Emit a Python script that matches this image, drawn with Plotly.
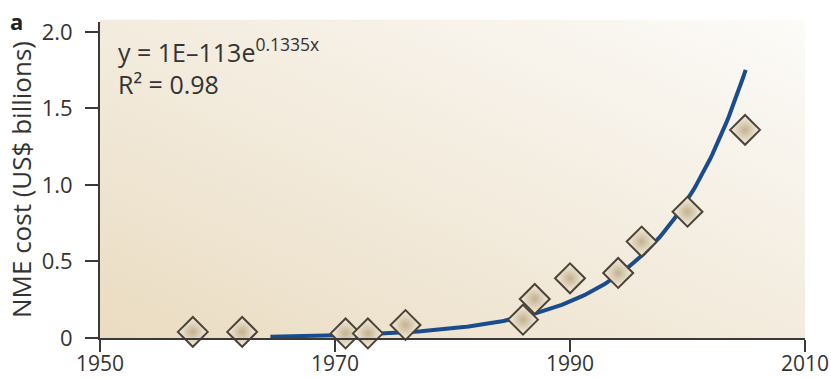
import base64
import numpy as np
import plotly.graph_objects as go

# NME cost by year of approval (US$ billions)
years = [1957.9, 1962.1, 1970.9, 1972.8, 1976.0, 1986.0, 1987.0, 1990.0, 1994.1, 1996.1, 2000.0, 2004.9]
cost = [0.04, 0.04, 0.03, 0.03, 0.085, 0.12, 0.255, 0.39, 0.425, 0.63, 0.825, 1.36]

# Exponential trend y = 1E-113 * e^(0.1335x), in US$ millions
fit_a = 1e-113
fit_b = 0.1335
fit_start, fit_end = 1964.5, 2004.95

x_ticks = [1950, 1970, 1990, 2010]
y_ticks = [0, 0.5, 1.0, 1.5, 2.0]
y_tick_text = ["0", "0.5", "1.0", "1.5", "2.0"]
y_top = 2.065

fit_x = np.linspace(fit_start, fit_end, 200)
fit_y = fit_a * np.exp(fit_b * fit_x) / 1000.0

FONT = "Open Sans"
INK = "#333333"

L, R, T, B = 100, 26, 22, 40
W, H = 831, 378
PW, PH = W - L - R, H - T - B


def px_x(px):
    return (px - L) / PW


def px_y(py):
    return (H - B - py) / PH


# Soft beige wash behind the plot, darker toward lower left
svg = (
    '<svg xmlns="http://www.w3.org/2000/svg" width="700" height="320" preserveAspectRatio="none">'
    '<defs><linearGradient id="g" x1="0" y1="1" x2="1" y2="0">'
    '<stop offset="0" stop-color="#eadcc1"/>'
    '<stop offset="0.45" stop-color="#f2eadb"/>'
    '<stop offset="1" stop-color="#fcfbf8"/>'
    '</linearGradient></defs>'
    '<rect width="700" height="320" fill="url(#g)"/></svg>'
)
bg_src = "data:image/svg+xml;base64," + base64.b64encode(svg.encode()).decode()

fig = go.Figure()

fig.add_trace(go.Scatter(
    x=fit_x, y=fit_y, mode="lines",
    line=dict(color="#1b4b8f", width=4),
    hoverinfo="skip", cliponaxis=False,
))

fig.add_trace(go.Scatter(
    x=years, y=cost, mode="markers",
    marker=dict(
        symbol="diamond", size=23,
        color="#f7f1e3",
        gradient=dict(type="radial", color="#c4b290"),
        line=dict(color="#4b4338", width=2),
    ),
    cliponaxis=False,
))

fig.update_layout(
    width=W, height=H,
    margin=dict(l=L, r=R, t=T, b=B, autoexpand=False),
    paper_bgcolor="white",
    plot_bgcolor="rgba(0,0,0,0)",
    showlegend=False,
    font=dict(family=FONT, size=22, color=INK),
    images=[dict(
        source=bg_src, xref="paper", yref="paper",
        x=0, y=1.008, sizex=1, sizey=1.008,
        sizing="stretch", layer="below", xanchor="left", yanchor="top",
    )],
    xaxis=dict(
        range=[1950, 2010], tickvals=x_ticks,
        showgrid=False, zeroline=False, automargin=False,
        showline=True, linecolor="#3a3a3a", linewidth=2,
        ticks="outside", ticklen=12, tickwidth=2, tickcolor="#3a3a3a",
        ticklabelstandoff=-6,
        tickfont=dict(family=FONT, size=21, color=INK),
    ),
    yaxis=dict(
        range=[0, y_top], tickvals=y_ticks, ticktext=y_tick_text,
        showgrid=False, zeroline=False, automargin=False,
        showline=True, linecolor="#3a3a3a", linewidth=2,
        ticks="outside", ticklen=13, tickwidth=2, tickcolor="#3a3a3a",
        ticklabelstandoff=8,
        tickfont=dict(family=FONT, size=22, color=INK),
    ),
    annotations=[
        dict(text="NME cost (US$ billions)", textangle=-90,
             xref="paper", yref="paper", x=px_x(21), y=px_y(180),
             xanchor="center", yanchor="middle",
             showarrow=False, font=dict(family=FONT, size=26, color=INK)),
        dict(text="<b>a</b>", xref="paper", yref="paper",
             x=px_x(16), y=px_y(21), xanchor="center", yanchor="middle",
             showarrow=False, font=dict(family=FONT, size=22, color="#222222")),
        dict(text="y = 1E–113e<sup>0.1335x</sup><br>R² = 0.98",
             xref="paper", yref="paper",
             x=px_x(116), y=px_y(30), xanchor="left", yanchor="top",
             align="left", showarrow=False,
             font=dict(family=FONT, size=25, color=INK)),
    ],
)

fig.write_html("out.html")
